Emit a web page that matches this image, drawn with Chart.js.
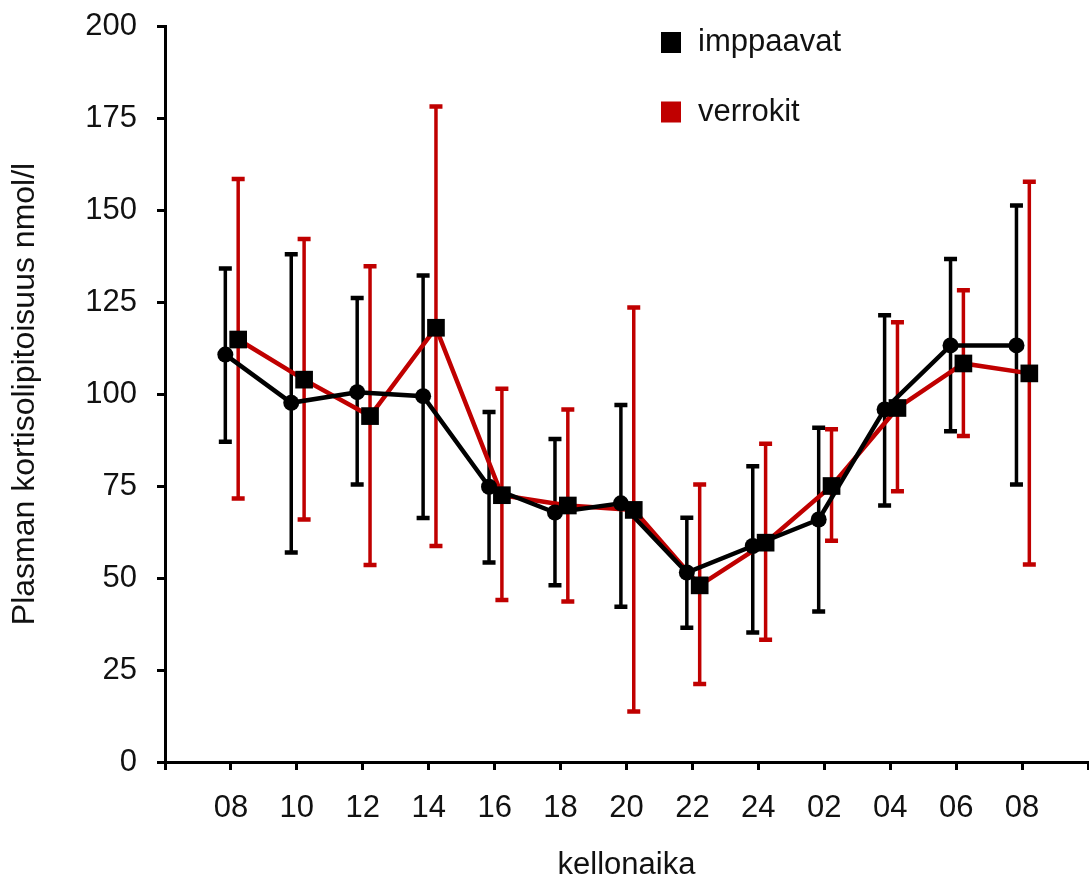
<!DOCTYPE html>
<html><head><meta charset="utf-8">
<script src="https://cdn.jsdelivr.net/npm/chart.js@4.4.1/dist/chart.umd.min.js"></script>
<style>html,body{margin:0;padding:0;background:#fff;}#wrap{width:1089px;height:880px;}</style>
</head><body><div id="wrap"><canvas id="c" width="1089" height="880"></canvas></div>
<script>
// ---- data ----
const categories = ['08','10','12','14','16','18','20','22','24','02','04','06','08'];
const seriesNames = ['imppaavat','verrokit'];
const imppaavatMean  = [110.7, 97.6, 100.5, 99.4, 74.8, 67.8, 70.3, 51.5, 58.7, 65.9, 95.8, 113.2, 113.2];
const imppaavatUpper = [134.1, 138.0, 126.1, 132.2, 95.1, 87.8, 97.0, 66.4, 80.4, 90.8, 121.4, 136.7, 151.2];
const imppaavatLower = [87.0, 56.9, 75.4, 66.3, 54.2, 48.0, 42.2, 36.5, 35.2, 40.9, 69.7, 89.9, 75.4];
const verrokitMean   = [114.8, 103.9, 94.0, 118.0, 72.5, 69.7, 68.5, 48.0, 59.6, 75.0, 96.2, 108.3, 105.6];
const verrokitUpper  = [158.4, 142.1, 134.7, 178.1, 101.4, 95.8, 123.5, 75.4, 86.5, 90.4, 119.5, 128.2, 157.7];
const verrokitLower  = [71.6, 65.9, 53.5, 58.7, 44.0, 43.6, 13.7, 21.2, 33.2, 60.1, 73.6, 88.6, 53.7];
const yTicks = [0, 25, 50, 75, 100, 125, 150, 175, 200];

const FONT = "'Liberation Sans', Arial, Helvetica, sans-serif";
const RED = '#c00000';
const BLACK = '#000000';
const OFFSET_A = -0.085, OFFSET_B = 0.11;

const toPoints = (arr, off) => arr.map((v, i) => ({x: i + 1 + off, y: v}));

const errorBars = {
  id: 'errorBars',
  beforeDatasetsDraw(chart) {
    const {ctx, scales: {x, y}} = chart;
    chart.data.datasets.forEach(ds => {
      ctx.save();
      ctx.strokeStyle = ds.borderColor;
      ctx.lineWidth = 3.5;
      ctx.lineCap = 'butt';
      ds.data.forEach((p, i) => {
        const px = x.getPixelForValue(p.x);
        const yl = y.getPixelForValue(ds.errLow[i]);
        const yh = y.getPixelForValue(ds.errHigh[i]);
        ctx.beginPath(); ctx.moveTo(px, yl); ctx.lineTo(px, yh); ctx.stroke();
        ctx.save(); ctx.lineWidth = 4.5;
        ctx.beginPath();
        ctx.moveTo(px - 6.5, yl); ctx.lineTo(px + 6.5, yl);
        ctx.moveTo(px - 6.5, yh); ctx.lineTo(px + 6.5, yh);
        ctx.stroke(); ctx.restore();
      });
      ctx.restore();
    });
  }
};

const legendBoxes = {
  id: 'legendBoxes',
  afterDraw(chart) {
    const {ctx} = chart;
    const items = [{t: seriesNames[0], c: BLACK, y: 42.5}, {t: seriesNames[1], c: RED, y: 112}];
    ctx.save();
    ctx.font = '31px ' + FONT;
    ctx.textBaseline = 'middle';
    ctx.textAlign = 'left';
    items.forEach(it => {
      ctx.fillStyle = it.c;
      ctx.fillRect(661, it.y - 10.5, 20, 21);
      ctx.fillStyle = '#111';
      ctx.fillText(it.t, 698, it.y);
    });
    ctx.restore();
  }
};

new Chart(document.getElementById('c'), {
  type: 'line',
  data: {
    datasets: [
      {
        label: seriesNames[0],
        data: toPoints(imppaavatMean, OFFSET_A),
        errLow: imppaavatLower, errHigh: imppaavatUpper,
        borderColor: BLACK, borderWidth: 4.5,
        pointStyle: 'circle', pointRadius: 8,
        pointBackgroundColor: BLACK, pointBorderColor: BLACK, pointBorderWidth: 0,
        tension: 0
      },
      {
        label: seriesNames[1],
        data: toPoints(verrokitMean, OFFSET_B),
        errLow: verrokitLower, errHigh: verrokitUpper,
        borderColor: RED, borderWidth: 4.5,
        pointStyle: 'rect', pointRadius: 12.5,
        pointBackgroundColor: BLACK, pointBorderColor: BLACK, pointBorderWidth: 0,
        tension: 0
      }
    ]
  },
  options: {
    responsive: false,
    animation: false,
    devicePixelRatio: 1,
    layout: {autoPadding: false, padding: {top: 26, left: 4, right: 1, bottom: 0}},
    plugins: {legend: {display: false}, tooltip: {enabled: false}},
    scales: {
      x: {
        type: 'linear', min: 0, max: 14,
        afterFit(s) { s.height = 118; s.paddingLeft = 0; s.paddingRight = 0; },
        afterBuildTicks(s) { s.ticks = Array.from({length: 15}, (_, i) => ({value: i})); },
        ticks: {
          autoSkip: false, maxRotation: 0, padding: 0, color: '#111',
          font: {family: FONT, size: 31, lineHeight: 2.45},
          callback: v => (v >= 1 && v <= categories.length) ? categories[v - 1] : ''
        },
        grid: {drawOnChartArea: false, drawTicks: true, tickLength: 8, tickWidth: 3, tickColor: BLACK},
        border: {display: true, color: BLACK, width: 3},
        title: {display: true, text: 'kellonaika', color: '#111', font: {family: FONT, size: 31}, padding: {top: 0, bottom: -4}}
      },
      y: {
        min: 0, max: 200,
        afterFit(s) { s.width = 161; s.paddingTop = 0; s.paddingBottom = 0; },
        afterBuildTicks(s) { s.ticks = yTicks.map(v => ({value: v})); },
        ticks: {padding: 20, color: '#111', font: {family: FONT, size: 31}},
        grid: {drawOnChartArea: false, drawTicks: true, tickLength: 8, tickWidth: 3, tickColor: BLACK},
        border: {display: true, color: BLACK, width: 3},
        title: {display: true, text: 'Plasman kortisolipitoisuus nmol/l', color: '#111', font: {family: FONT, size: 32}, padding: {top: 2, bottom: 0}}
      }
    }
  },
  plugins: [errorBars, legendBoxes]
});
</script>
</body></html>
